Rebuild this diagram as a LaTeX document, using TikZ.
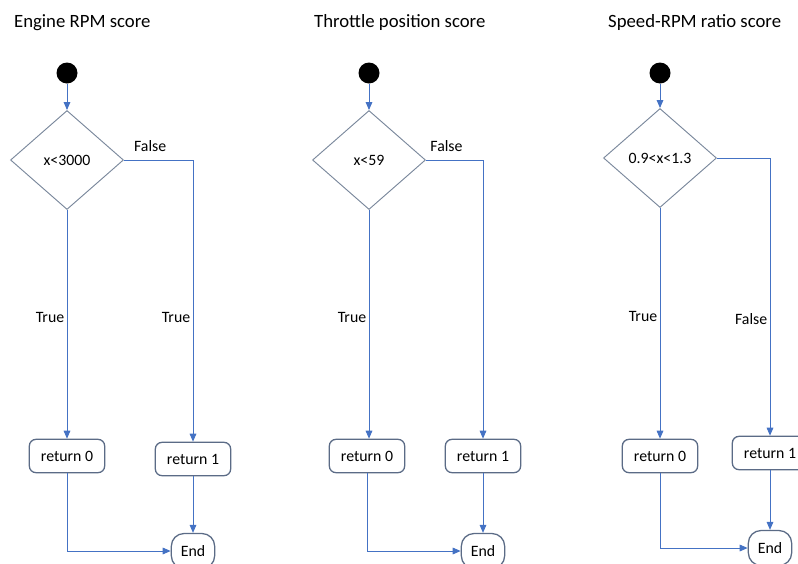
\documentclass[tikz,border=0pt]{standalone}
\usepackage{fontspec}
\setmainfont{Carlito}
\usetikzlibrary{positioning,arrows.meta,shapes.geometric}
\definecolor{cLink}{HTML}{4472C4}
\definecolor{cEdge}{HTML}{5B6B86}
\definecolor{cDia}{HTML}{7A889C}

\begin{document}
\begin{tikzpicture}[x=0.3mm,y=-0.3mm,font=\fontsize{13.5}{15}\selectfont,
      start/.style={circle,fill=black,minimum size=6.3mm,inner sep=0pt},
      dec/.style={diamond,draw=cDia,line width=0.8pt,minimum width=33.9mm,minimum height=29.7mm,inner sep=0pt},
      box/.style={draw=cEdge,line width=1.1pt,rounded corners=2mm,minimum width=22.6mm,minimum height=10mm,inner sep=0pt},
      term/.style={draw=cEdge,line width=1.1pt,rounded corners=3.8mm,minimum width=13mm,minimum height=10.5mm,inner sep=0pt},
      lbl/.style={inner sep=2pt,text=black},
      ttl/.style={anchor=base west,font=\fontsize{16}{19}\selectfont},
      arr/.style={-{Triangle[length=2.4mm,width=2mm]},cLink,line width=0.8pt}]
    \clip (0,0) rectangle (798,563);
    % titles
    \node[ttl] (t1) at (10,27) {Engine RPM score};
    \node[ttl] (t2) at (310,27) {Throttle position score};
    \node[ttl] (t3) at (604,27) {Speed-RPM ratio score};
    % Engine RPM
    \node[start] (s1) at (67,73) {};
    \node[dec] (d1) at (67,160) {x<3000};
    \node[box] (ra1) at (67,456) {return 0};
    \node[box] (rb1) at (193,459) {return 1};
    \node[term] (e1) at (193,551) {End};
    \draw[arr] (s1) -- (d1);
    \draw[arr] (d1) -- node[lbl,left,pos=0.47] {True} (ra1);
    \draw[arr] (d1.east) -| node[lbl,above=5pt,pos=0.19] {False}
      node[lbl,left,pos=0.78] {True} (rb1.north);
    \draw[arr] (ra1) |- (e1.west);
    \draw[arr] (rb1) -- (e1);
    % Throttle position
    \node[start] (s2) at (369,73) {};
    \node[dec] (d2) at (369,160) {x<59};
    \node[box] (ra2) at (367,456) {return 0};
    \node[box] (rb2) at (483,456) {return 1};
    \node[term] (e2) at (483,551) {End};
    \draw[arr] (s2) -- (d2);
    \draw[arr] (d2.south) -- node[lbl,left,pos=0.47] {True} (d2.south |- ra2.north);
    \draw[arr] (d2.east) -| node[lbl,above=5pt,pos=0.18] {False} (rb2.north);
    \draw[arr] (ra2) |- (e2.west);
    \draw[arr] (rb2) -- (e2);
    % Speed-RPM ratio
    \node[start] (s3) at (660,73) {};
    \node[dec] (d3) at (660,158) {0.9<x<1.3};
    \node[box] (ra3) at (660,456) {return 0};
    \node[box] (rb3) at (770,453) {return 1};
    \node[term] (e3) at (770,548) {End};
    \draw[arr] (s3) -- (d3);
    \draw[arr] (d3) -- node[lbl,left,pos=0.47] {True} (ra3);
    \draw[arr] (d3.east) -| node[lbl,left,pos=0.79] {False} (rb3.north);
    \draw[arr] (ra3) |- (e3.west);
    \draw[arr] (rb3) -- (e3);
  \end{tikzpicture}
\end{document}
